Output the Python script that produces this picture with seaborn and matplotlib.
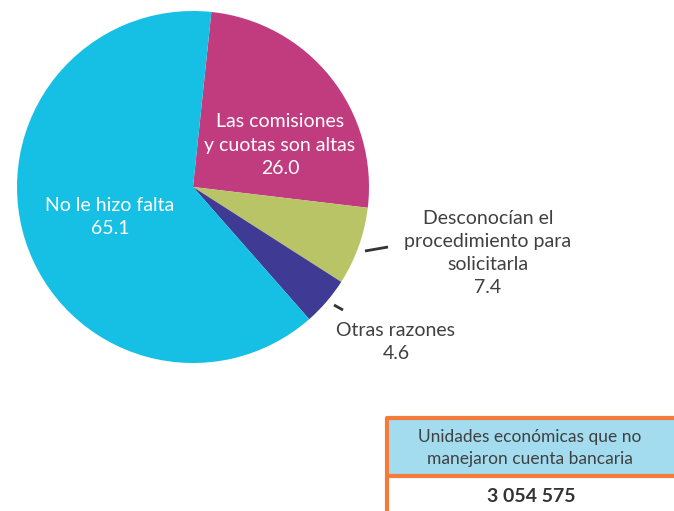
import matplotlib.pyplot as plt
import matplotlib.patches as mpatches
import seaborn as sns

# Data
categories = ['Las comisiones\ny cuotas son altas', 'Desconocían el\nprocedimiento para\nsolicitarla',
              'Otras razones', 'No le hizo falta']
values = [26.0, 7.4, 4.6, 65.1]
colors = ['#C13C7F', '#B8C465', '#3F3A94', '#15C0E4']
box_title = 'Unidades económicas que no\nmanejaron cuenta bancaria'
box_value = '3 054 575'

sns.set_theme(style='white')
plt.rcParams['font.family'] = ['Lato', 'DejaVu Sans']

W, H = 674, 511
fig = plt.figure(figsize=(W / 100, H / 100), dpi=100)
ax = fig.add_axes([0, 0, 1, 1])

# pixel-like coordinates, y measured from bottom
cx, cy, r = 193, H - 187, 176
wedges, _ = ax.pie(values, colors=colors, startangle=84, counterclock=False,
                   center=(cx, cy), radius=r, frame=True,
                   wedgeprops=dict(linewidth=0))
ax.set_xlim(0, W)
ax.set_ylim(0, H)
ax.set_aspect('equal')
ax.axis('off')

fs = 14
dark = '#404040'
lbl = [f'{c}\n{v:.1f}' for c, v in zip(categories, values)]

ax.text(280, H - 145, lbl[0], color='white', fontsize=fs, ha='center', va='center', linespacing=1.45)
ax.text(110, H - 217, lbl[3], color='white', fontsize=fs, ha='center', va='center', linespacing=1.45)
ax.text(488, H - 253, lbl[1], color=dark, fontsize=fs, ha='center', va='center', linespacing=1.45)
ax.text(396, H - 342, lbl[2], color=dark, fontsize=fs, ha='center', va='center', linespacing=1.45)

# leader lines
ax.plot([365, 388], [H - 251, H - 247], color='#333333', lw=2, solid_capstyle='butt')
ax.plot([334, 343], [H - 305, H - 310], color='#333333', lw=2, solid_capstyle='butt')

# summary box
orange = '#F47B3A'
ax.add_patch(mpatches.Rectangle((387, H - 476), W - 387 + 5, 58, facecolor='#A2DCEE',
                                edgecolor='none', zorder=2))
ax.plot([387, W + 5], [H - 418, H - 418], color=orange, lw=3, zorder=3)
ax.plot([387, W + 5], [H - 476, H - 476], color=orange, lw=3, zorder=3)
ax.plot([387, 387], [H - 417, -5], color=orange, lw=3, zorder=3, solid_capstyle='butt')
ax.text(530, H - 448, box_title, color=dark, fontsize=12.5, ha='center', va='center', linespacing=1.5, zorder=4)
ax.text(531, H - 496, box_value, color='#333333', fontsize=14, fontweight='bold',
        ha='center', va='center', zorder=4)

fig.savefig('out.png', dpi=100)
